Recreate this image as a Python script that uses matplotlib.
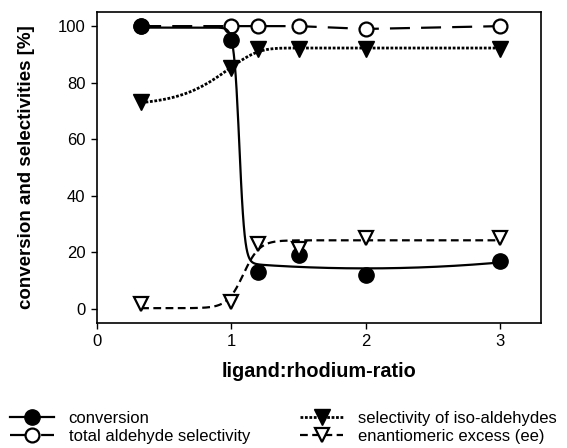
import numpy as np
import matplotlib
matplotlib.use('Agg')
from matplotlib import pyplot as plt

plt.rcParams['font.family'] = ['Liberation Sans', 'DejaVu Sans']

ratio = [0.33, 1.0, 1.2, 1.5, 2.0, 3.0]
conversion = [100, 95, 13, 19, 12, 17]
total_ald = [100, 100, 100, 100, 99, 100]
iso_sel = [73, 85, 92, 92, 92, 92]
ee = [1.5, 2.5, 23, 21, 25, 25]


def smooth_fit(x, y, extra=None, wmin=0.02, wmax=0.3, x0min=0.6, x0max=1.5):
	# sigmoid fit (grid over centre/width, linear least squares for the rest)
	x = np.asarray(x, float)
	y = np.asarray(y, float)

	def design(xx, x0, w):
		if extra == 'gompertz':
			s = 1 - np.exp(-np.exp((xx - x0) / w))
		else:
			s = 1 / (1 + np.exp(-(xx - x0) / w))
		cols = [np.ones_like(xx), s]
		if extra == 'tail':
			cols.append(s * (xx - 2) ** 2)
		return np.stack(cols, 1)

	best = None
	for x0 in np.linspace(x0min, x0max, 91):
		for w in np.linspace(wmin, wmax, 57):
			A = design(x, x0, w)
			coef, *_ = np.linalg.lstsq(A, y, rcond=None)
			err = np.sum((A @ coef - y) ** 2)
			if best is None or err < best[0]:
				best = (err, x0, w, coef)
	_, x0, w, coef = best
	xs = np.linspace(x[0], x[-1], 400)
	return xs, design(xs, x0, w) @ coef


fig = plt.figure(figsize=(5.67, 4.48), dpi=100)
ax = fig.add_axes([0.1706, 0.2797, 0.783, 0.6935])

lw = 1.6
# total aldehyde selectivity
ax.plot(ratio, total_ald, color='black', lw=lw, dashes=(9, 5), zorder=2)
ax.plot(ratio, total_ald, ls='none', marker='o', ms=10, mfc='white', mec='black', mew=1.6, zorder=3)
# conversion
xs, ys = smooth_fit(ratio, conversion, extra='tail')
ax.plot(xs, ys, color='black', lw=lw, zorder=4)
ax.plot(ratio, conversion, ls='none', marker='o', ms=11, color='black', zorder=5)
# iso selectivity
xs, ys = smooth_fit(ratio, iso_sel, extra='gompertz', wmin=0.22, wmax=0.5)
ax.plot(xs, ys, color='black', lw=2, dashes=(1, 0.6), zorder=4)
ax.plot(ratio, iso_sel, ls='none', marker='v', ms=11, color='black', zorder=5)
# ee
xs, ys = smooth_fit(ratio, ee, wmin=0.06)
ax.plot(xs, ys, color='black', lw=lw, dashes=(3.5, 2), zorder=6)
ax.plot(ratio, ee, ls='none', marker='v', ms=10, mfc='white', mec='black', mew=1.6, zorder=7)

ax.set_xlim(0, 3.3)
ax.set_ylim(-5, 105)
ax.set_xticks([0, 1, 2, 3])
ax.set_yticks([0, 20, 40, 60, 80, 100])
ax.tick_params(labelsize=12, direction='out', length=4, width=1, pad=4)
for sp in ax.spines.values():
	sp.set_linewidth(1.2)
ax.set_xlabel('ligand:rhodium-ratio', fontsize=14.3, fontweight='bold')
ax.set_ylabel('conversion and selectivities [%]', fontsize=13.5, fontweight='bold')
ax.xaxis.set_label_coords(0.5, -0.125)
ax.yaxis.set_label_coords(-0.139, 0.5)

# legend handles
h1, = ax.plot([], [], color='black', lw=lw, marker='o', ms=11)
h2, = ax.plot([], [], color='black', lw=lw, dashes=(9, 5), marker='o', ms=10, mfc='white', mew=1.6)
h3, = ax.plot([], [], color='black', lw=2, dashes=(1, 0.6), marker='v', ms=11)
h4, = ax.plot([], [], color='black', lw=lw, dashes=(3.5, 2), marker='v', ms=10, mfc='white', mew=1.6)
fig.legend([h1, h2, h3, h4],
	['conversion', 'total aldehyde selectivity', 'selectivity of iso-aldehydes', 'enantiomeric excess (ee)'],
	ncol=2, loc='lower left', bbox_to_anchor=(0.0035, -0.009), frameon=False, borderpad=0,
	fontsize=12, handlelength=2.6, handletextpad=0.9, columnspacing=3.0, labelspacing=0.15)

fig.savefig('out.png', dpi=100)
